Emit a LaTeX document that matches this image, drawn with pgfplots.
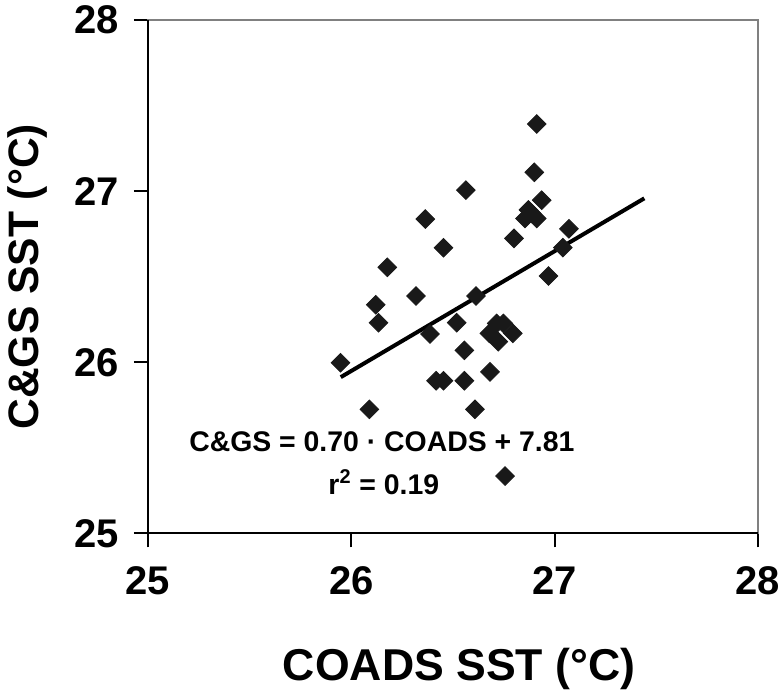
\documentclass[border=0pt]{standalone}
\usepackage{fontspec}
\setmainfont{Liberation Sans}
\usepackage{pgfplots}
\pgfplotsset{compat=1.18}

\begin{document}
\begin{tikzpicture}
\path[use as bounding box] (-74pt,-79.3pt) rectangle (318pt,266.7pt);
\begin{axis}[
  scale only axis,
  width=305pt, height=256.7pt,
  xmin=25, xmax=28, ymin=25, ymax=28,
  xtick={25,26,27,28}, ytick={25,26,27,28},
  xtick pos=bottom, ytick pos=left,
  tick align=outside, major tick length=7pt,
  tick style={black, line width=1pt},
  axis line style={gray, line width=1pt},
  /pgf/number format/assume math mode=true,
  ticklabel style={font=\bfseries\fontsize{20}{20}\selectfont},
  xticklabel style={yshift=-6pt},
  yticklabel style={xshift=-4pt},
  xlabel={COADS SST (°C)},
  ylabel={C\&GS SST (°C)},
  xlabel style={font=\bfseries\fontsize{22.3}{23}\selectfont, at={(axis description cs:0.51,-0.265)}, anchor=center},
  ylabel style={font=\bfseries\fontsize{21.3}{22}\selectfont, at={(axis description cs:-0.198,0.5)}, anchor=center},
  clip=false,
]
\draw[black, line width=1pt] (rel axis cs:0,1) -- (rel axis cs:0,0) -- (rel axis cs:1,0);

\addplot[only marks, mark=square*, mark size=3.3pt,
  mark options={rotate=45, fill=black!90, draw=black!90}] coordinates {
(26.912,27.392) (26.90,27.11) (26.936,26.947) (26.871,26.89) (26.854,26.84)
(26.912,26.84) (26.887,26.87) (26.563,27.006) (26.364,26.837) (26.80,26.724)
(26.453,26.669) (27.07,26.78) (27.04,26.67) (26.177,26.555) (26.97,26.504)
(26.318,26.387) (26.613,26.387) (26.12,26.336) (26.134,26.231) (26.518,26.231)
(26.387,26.165) (26.715,26.227) (26.748,26.227) (26.679,26.169) (26.723,26.12)
(26.794,26.169) (26.556,26.07) (25.947,25.997) (26.417,25.892) (26.453,25.892)
(26.556,25.892) (26.682,25.944) (26.089,25.725) (26.608,25.725) (26.756,25.335)
};

\addplot[black, line width=2pt, no marks] coordinates {(25.948,25.913) (27.441,26.958)};

\node[anchor=base, font=\bfseries\fontsize{14.2}{15}\selectfont] at (axis cs:26.15,25.477) {C\&GS = 0.70 · COADS + 7.81};
\node[anchor=base, font=\bfseries\fontsize{14.2}{15}\selectfont] at (axis cs:26.16,25.23) {r\textsuperscript{2} = 0.19};
\end{axis}
\end{tikzpicture}
\end{document}
